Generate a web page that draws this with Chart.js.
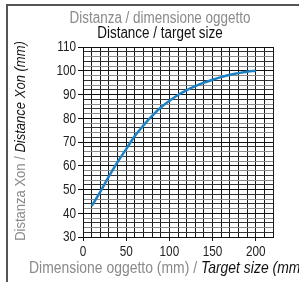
<!DOCTYPE html>
<html>
<head>
<meta charset="utf-8">
<script src="https://cdn.jsdelivr.net/npm/chart.js@4"></script>
<style>
html,body{margin:0;padding:0;background:#fff;}
canvas{display:block;}
</style>
</head>
<body>
<canvas id="c" width="299" height="282"></canvas>
<script>
// ---- data ----
const targetSize = [10, 20, 30, 40, 50, 60, 70, 80, 90, 100, 110, 120, 130, 140, 150, 160, 170, 180, 190, 200];
const distanceXon = [43, 49, 55.5, 61.5, 67, 72.5, 77, 81, 84.5, 87.3, 89.8, 91.8, 93.5, 95, 96.2, 97.3, 98.3, 99, 99.6, 100];
const xTickLabels = [0, 50, 100, 150, 200];
const yTickLabels = [30, 40, 50, 60, 70, 80, 90, 100, 110];
const titleIt = "Distanza / dimensione oggetto";
const titleEn = "Distance / target size";
const yTitleIt = "Distanza Xon / ";
const yTitleEn = "Distance Xon (mm)";
const xTitleIt = "Dimensione oggetto (mm) / ";
const xTitleEn = "Target size (mm)";

const FONT = "'Liberation Sans', Arial, sans-serif";
const SX = 0.84; // horizontal condensing (the original uses a condensed face)
const GRAY = '#8a8a8a';
const BLACK = '#111';

function fillCond(ctx, text, x, y, align) {
  ctx.save();
  ctx.translate(x, y);
  ctx.scale(SX, 1);
  ctx.textAlign = align;
  ctx.fillText(text, 0, 0);
  ctx.restore();
}
function drawSegments(ctx, segs, x, y) {
  let cx = x;
  for (const s of segs) {
    ctx.font = s.font;
    ctx.fillStyle = s.color;
    fillCond(ctx, s.text, cx, y, 'left');
    cx += ctx.measureText(s.text).width * SX;
  }
}
function segWidth(ctx, segs) {
  let w = 0;
  for (const s of segs) { ctx.font = s.font; w += ctx.measureText(s.text).width * SX; }
  return w;
}

const decor = {
  id: 'decor',
  afterDraw(chart) {
    const ctx = chart.ctx;
    ctx.save();
    // outer frame
    ctx.strokeStyle = '#555';
    ctx.lineWidth = 2;
    ctx.beginPath();
    ctx.moveTo(7, 282);
    ctx.lineTo(7, 5);
    ctx.lineTo(299, 5);
    ctx.stroke();

    ctx.textBaseline = 'middle';
    // tick labels (condensed), positioned by the chart's scales
    ctx.font = '14px ' + FONT;
    ctx.fillStyle = '#222';
    const xs = chart.scales.x, ys = chart.scales.y;
    xTickLabels.forEach(v => fillCond(ctx, String(v), xs.getPixelForValue(v), 252, 'center'));
    yTickLabels.forEach(v => fillCond(ctx, String(v), 76, ys.getPixelForValue(v) + 0.5, 'right'));

    // titles
    ctx.font = '16px ' + FONT;
    ctx.fillStyle = GRAY;
    fillCond(ctx, titleIt, 160, 19, 'center');
    ctx.fillStyle = BLACK;
    fillCond(ctx, titleEn, 160, 34, 'center');

    // x axis title
    const xseg = [
      {text: xTitleIt, font: '16.6px ' + FONT, color: GRAY},
      {text: xTitleEn, font: 'italic 16.6px ' + FONT, color: BLACK}
    ];
    drawSegments(ctx, xseg, 29, 268);

    // y axis title (rotated)
    const yseg = [
      {text: yTitleIt, font: '15.5px ' + FONT, color: GRAY},
      {text: yTitleEn, font: 'italic 15.5px ' + FONT, color: BLACK}
    ];
    const w = segWidth(ctx, yseg);
    ctx.translate(21, 141);
    ctx.rotate(-Math.PI / 2);
    drawSegments(ctx, yseg, -w / 2, 0);
    ctx.restore();
  }
};

new Chart(document.getElementById('c'), {
  type: 'line',
  data: {
    datasets: [{
      data: targetSize.map((x, i) => ({x: x, y: distanceXon[i]})),
      borderColor: '#1b80c4',
      borderWidth: 2.5,
      pointRadius: 0,
      fill: false,
      tension: 0.4
    }]
  },
  options: {
    responsive: false,
    animation: false,
    events: [],
    layout: {padding: {top: 47, right: 26, left: 0, bottom: 0}},
    plugins: {legend: {display: false}, tooltip: {enabled: false}, title: {display: false}},
    scales: {
      x: {
        type: 'linear',
        min: 0, max: 220,
        afterFit(s) { s.height = 45; },
        border: {color: BLACK, width: 1},
        grid: {
          color: '#1a1a1a',
          lineWidth: 1,
          tickLength: 4,
          tickColor: (c) => xTickLabels.includes(c.tick && c.tick.value) ? BLACK : 'rgba(0,0,0,0)'
        },
        ticks: {
          stepSize: 10,
          autoSkip: false,
          maxRotation: 0,
          padding: 2,
          color: 'rgba(0,0,0,0)',
          font: {family: FONT, size: 13},
          callback: (v) => xTickLabels.includes(v) ? String(v) : ''
        }
      },
      y: {
        type: 'linear',
        min: 30, max: 110,
        afterFit(s) { s.width = 83; },
        border: {color: BLACK, width: 1},
        grid: {
          color: (c) => {
            const v = c.tick ? c.tick.value : 0;
            if (v % 10 === 0) return BLACK;
            return (v / 2) % 2 === 0 ? '#333' : '#8a8a8a';
          },
          lineWidth: 1,
          tickLength: 5,
          tickColor: (c) => yTickLabels.includes(c.tick && c.tick.value) ? BLACK : 'rgba(0,0,0,0)'
        },
        ticks: {
          stepSize: 2,
          autoSkip: false,
          padding: 2,
          color: 'rgba(0,0,0,0)',
          font: {family: FONT, size: 13},
          callback: (v) => yTickLabels.includes(v) ? String(v) : ''
        }
      }
    }
  },
  plugins: [decor]
});
</script>
</body>
</html>
